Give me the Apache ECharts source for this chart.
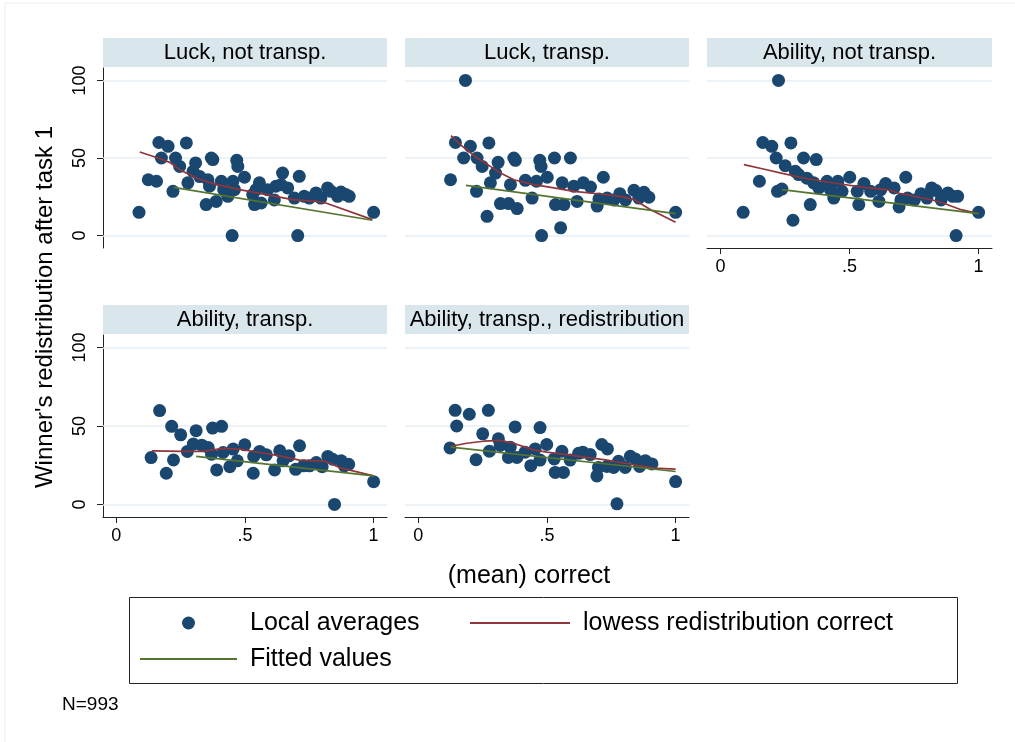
<!DOCTYPE html>
<html>
<head>
<meta charset="utf-8">
<script src="https://cdn.jsdelivr.net/npm/echarts@6/dist/echarts.min.js"></script>
<style>html,body{margin:0;padding:0;background:#fff;}#c{width:1015px;height:742px;}</style>
</head>
<body>
<div id="c"></div>
<script>
// ---------- data ----------
const panelTitles = ['Luck, not transp.', 'Luck, transp.', 'Ability, not transp.', 'Ability, transp.', 'Ability, transp., redistribution'];
const seriesNames = ['Local averages', 'lowess redistribution correct', 'Fitted values'];
const xTicks = [0, 0.5, 1];
const xTickLabels = ['0', '.5', '1'];
const yTicks = [0, 50, 100];
const yTickLabels = ['0', '50', '100'];

const luckNotTranspPoints = [[0.088,15],[0.124,36],[0.156,35],[0.165,60],[0.201,57.5],[0.175,50],[0.23,50],[0.22,28.5],[0.272,59.7],[0.246,44.6],[0.308,46.8],[0.278,34],[0.298,41.4],[0.324,38],[0.356,36],[0.369,50],[0.375,49],[0.349,20],[0.388,22],[0.362,31.8],[0.408,35],[0.417,29.6],[0.433,25.3],[0.453,35],[0.45,0],[0.468,48.5],[0.472,44.6],[0.459,29.6],[0.498,37.6],[0.53,26.4],[0.537,20],[0.556,34],[0.563,21],[0.543,29.6],[0.588,29.6],[0.614,23],[0.62,31.8],[0.646,40.3],[0.64,32.8],[0.666,30.7],[0.692,24.2],[0.711,38.2],[0.705,0],[0.73,25.3],[0.75,24.2],[0.776,27.5],[0.795,24.2],[0.821,30.7],[0.834,28.5],[0.86,25.3],[0.873,28.1],[0.892,26.4],[0.905,25.3],[1.0,15]];
const luckNotTranspLowess = [[0.091,53.9],[0.162,50],[0.207,47.2],[0.246,42.5],[0.311,37.1],[0.375,33.5],[0.479,29.6],[0.582,26.4],[0.685,23.2],[0.776,22.1],[0.814,21],[0.995,10.3]];
const luckNotTranspFit = [[0.223,31.1],[0.995,9.9]];

const luckTranspPoints = [[0.183,100],[0.125,36],[0.144,60],[0.202,57.5],[0.176,50],[0.228,50],[0.226,28.5],[0.274,59.7],[0.248,44.6],[0.267,12.4],[0.31,47.2],[0.28,34],[0.3,40.3],[0.319,20.6],[0.351,20.6],[0.384,17.4],[0.371,50],[0.377,48.5],[0.358,32.8],[0.416,35.6],[0.442,24.2],[0.459,35],[0.472,48.5],[0.477,44.6],[0.479,0],[0.501,37.6],[0.529,50],[0.533,20],[0.553,5],[0.566,20],[0.559,34],[0.591,50],[0.604,31.8],[0.617,22],[0.641,34],[0.669,31.3],[0.695,19],[0.702,23.6],[0.719,37.6],[0.734,24.2],[0.76,23],[0.783,27],[0.805,23],[0.838,29.2],[0.857,24.2],[0.877,27.9],[0.896,24.7],[1.0,15]];
const luckTranspLowess = [[0.127,64.4],[0.163,58.6],[0.228,50],[0.28,44.6],[0.319,40.3],[0.371,36],[0.449,32.8],[0.527,30.7],[0.604,28.5],[0.708,26.8],[0.786,25.3],[0.838,23.2],[0.903,16.7],[1.0,8.6]];
const luckTranspFit = [[0.185,32.4],[1.0,14.2]];

const abilityNotTranspPoints = [[0.225,100],[0.088,15],[0.151,35],[0.164,60],[0.199,57.5],[0.216,50],[0.221,28.5],[0.238,30],[0.273,59.7],[0.251,45],[0.281,9.9],[0.29,41.4],[0.303,39.3],[0.322,50],[0.348,20],[0.335,37],[0.371,49],[0.361,34],[0.381,30.7],[0.413,35],[0.426,29.6],[0.439,24.2],[0.455,35],[0.471,28.5],[0.501,37.6],[0.53,28.5],[0.536,20],[0.556,33.5],[0.582,28.5],[0.614,22],[0.621,29.6],[0.64,33.5],[0.673,30.7],[0.692,18.5],[0.699,23],[0.718,37.6],[0.725,24.2],[0.751,23],[0.777,27],[0.8,24.2],[0.818,30.7],[0.835,29],[0.855,23],[0.881,27.5],[0.9,25.3],[0.919,25.3],[0.913,0],[1.0,15]];
const abilityNotTranspLowess = [[0.091,45.7],[0.166,42.9],[0.244,39.9],[0.322,37.1],[0.439,33.9],[0.569,30.7],[0.647,29.6],[0.699,27],[0.803,23.6],[0.855,21.5],[0.932,16.7],[1.0,14.2]];
const abilityNotTranspFit = [[0.238,29.6],[1.0,14.2]];

const abilityTranspPoints = [[0.135,29.9],[0.168,59.8],[0.194,19.9],[0.215,49.8],[0.222,28.4],[0.25,44.4],[0.276,33.8],[0.31,47],[0.299,38.5],[0.332,37.8],[0.357,36.3],[0.374,48.7],[0.409,49.8],[0.39,22],[0.37,32],[0.415,33.1],[0.441,24.1],[0.454,35.3],[0.47,27.8],[0.499,38],[0.532,19.9],[0.534,30.6],[0.557,33.8],[0.583,31.6],[0.615,22],[0.635,34.2],[0.648,27.8],[0.671,31],[0.697,22.4],[0.712,37.4],[0.728,24.6],[0.751,24.6],[0.777,26.7],[0.8,24.1],[0.822,30.6],[0.841,28.8],[0.848,0],[0.874,27.8],[0.886,24.6],[0.903,25.6],[1.0,14.5]];
const abilityTranspLowess = [[0.138,34.2],[0.261,33.8],[0.338,33.8],[0.415,35.7],[0.48,35.3],[0.557,33.1],[0.635,31],[0.712,28.2],[0.815,27.4],[0.867,23.5],[1.0,18.2]];
const abilityTranspFit = [[0.31,30.6],[1.0,18.2]];

const abilityRedistPoints = [[0.123,36],[0.143,60],[0.149,50],[0.198,57.5],[0.224,28.5],[0.25,45],[0.272,60],[0.276,33.9],[0.311,41.8],[0.318,37.6],[0.35,30],[0.357,36.5],[0.376,49.4],[0.383,30],[0.415,33.3],[0.437,24.7],[0.454,35.4],[0.473,49],[0.473,28.3],[0.499,38.2],[0.532,20.4],[0.528,29],[0.558,33.9],[0.564,20.4],[0.59,28.3],[0.623,32.6],[0.639,33.3],[0.668,31.8],[0.694,18.2],[0.7,23.6],[0.713,38.2],[0.735,35.4],[0.733,24.2],[0.759,23.6],[0.772,0.4],[0.778,27.5],[0.804,23.6],[0.824,30.7],[0.843,29],[0.86,24.2],[0.882,27.9],[0.908,25.8],[1.0,14.6]];
const abilityRedistLowess = [[0.126,37.1],[0.188,39],[0.253,40.3],[0.318,40.8],[0.37,39],[0.447,34.8],[0.499,33.3],[0.577,31.8],[0.655,30],[0.733,28.3],[0.837,25.3],[0.914,23.2],[1.0,22.5]];
const abilityRedistFit = [[0.126,36.5],[1.0,21]];

const panelData = [
  [luckNotTranspPoints, luckNotTranspLowess, luckNotTranspFit],
  [luckTranspPoints, luckTranspLowess, luckTranspFit],
  [abilityNotTranspPoints, abilityNotTranspLowess, abilityNotTranspFit],
  [abilityTranspPoints, abilityTranspLowess, abilityTranspFit],
  [abilityRedistPoints, abilityRedistLowess, abilityRedistFit]
];

// ---------- layout ----------
const FONT = 'Liberation Sans, Arial, Helvetica, sans-serif';
const NAVY = '#1a476f', MAROON = '#90353b', FOREST = '#55752f';
const STRIP = '#d9e6eb', GRIDC = '#e6eef2', AXC = '#222';
const panels = [
  {left: 103, top: 68, width: 284, height: 180, strip: 38, showY: true,  showX: false},
  {left: 405, top: 68, width: 284, height: 180, strip: 38, showY: false, showX: false},
  {left: 707, top: 68, width: 285, height: 180, strip: 38, showY: false, showX: true},
  {left: 103, top: 335, width: 284, height: 182, strip: 305, showY: true,  showX: true},
  {left: 405, top: 335, width: 284, height: 182, strip: 305, showY: false, showX: true}
];
const XMIN = -0.052, XMAX = 1.052, YMIN = -8, YMAX = 108;

const grids = [], xAxes = [], yAxes = [], series = [], graphics = [];
panels.forEach((p, i) => {
  grids.push({left: p.left, top: p.top, width: p.width, height: p.height, containLabel: false});
  xAxes.push({
    type: 'value', gridIndex: i, min: XMIN, max: XMAX,
    show: p.showX,
    splitLine: {show: false},
    axisLine: {show: p.showX, onZero: false, lineStyle: {color: AXC, width: 1}},
    axisTick: {show: p.showX, length: 6, customValues: xTicks, lineStyle: {color: AXC}},
    axisLabel: {show: p.showX, customValues: xTicks, margin: 10, fontFamily: FONT, fontSize: 18, color: '#000',
      formatter: v => xTickLabels[xTicks.indexOf(v)]}
  });
  yAxes.push({
    type: 'value', gridIndex: i, min: YMIN, max: YMAX,
    show: p.showY,
    splitLine: {show: false},
    axisLine: {show: p.showY, onZero: false, lineStyle: {color: AXC, width: 1}},
    axisTick: {show: p.showY, length: 6, customValues: yTicks, lineStyle: {color: AXC}},
    axisLabel: {show: p.showY, customValues: yTicks, rotate: 90, margin: 14, fontFamily: FONT, fontSize: 18, color: '#000',
      formatter: v => yTickLabels[yTicks.indexOf(v)]}
  });
  const [pts, low, fit] = panelData[i];
  series.push({
    name: seriesNames[0], type: 'scatter', xAxisIndex: i, yAxisIndex: i, data: pts,
    symbol: 'circle', symbolSize: 13, itemStyle: {color: NAVY, opacity: 1}, z: 3, silent: true,
    markLine: {silent: true, z: 1, symbol: ['none', 'none'], label: {show: false},
      lineStyle: {color: GRIDC, width: 1.5, type: 'solid'}, animation: false,
      data: yTicks.map(v => ({yAxis: v}))}
  });
  series.push({
    name: seriesNames[1], type: 'line', xAxisIndex: i, yAxisIndex: i, data: low,
    showSymbol: false, symbol: 'none', lineStyle: {color: MAROON, width: 1.7}, itemStyle: {color: MAROON}, z: 4, silent: true
  });
  series.push({
    name: seriesNames[2], type: 'line', xAxisIndex: i, yAxisIndex: i, data: fit,
    showSymbol: false, symbol: 'none', lineStyle: {color: FOREST, width: 1.7}, itemStyle: {color: FOREST}, z: 4, silent: true
  });
  graphics.push({type: 'rect', shape: {x: p.left, y: p.strip, width: p.width, height: 29}, style: {fill: STRIP}, silent: true});
  graphics.push({type: 'text', x: p.left + p.width / 2, y: p.strip + 15,
    style: {text: panelTitles[i], fill: '#000', font: '22px ' + FONT, textAlign: 'center', textVerticalAlign: 'middle'}, silent: true});
});

// outer frame, axis titles, legend box, note
graphics.push({type: 'rect', shape: {x: 5, y: 3, width: 1100, height: 800}, style: {fill: 'none', stroke: '#e6eef0', lineWidth: 1}, silent: true, z: -1});
graphics.push({type: 'text', x: 45, y: 307, rotation: Math.PI / 2,
  style: {text: "Winner's redistribution after task 1", fill: '#000', font: '24px ' + FONT, textAlign: 'center', textVerticalAlign: 'middle'}, silent: true});
graphics.push({type: 'text', x: 529, y: 576,
  style: {text: '(mean) correct', fill: '#000', font: '25px ' + FONT, textAlign: 'center', textVerticalAlign: 'middle'}, silent: true});
graphics.push({type: 'rect', shape: {x: 129.5, y: 597.5, width: 828, height: 86}, style: {fill: '#fff', stroke: '#222', lineWidth: 1}, silent: true, z: -1});
graphics.push({type: 'text', x: 62, y: 705,
  style: {text: 'N=993', fill: '#000', font: '19px ' + FONT, textAlign: 'left', textVerticalAlign: 'middle'}, silent: true});

const legendText = {fontFamily: FONT, fontSize: 25, color: '#000', lineHeight: 28};
const legends = [
  {orient: 'horizontal', padding: 0, selectedMode: false, left: 182, top: 609, itemWidth: 13, itemHeight: 14,
    textStyle: Object.assign({padding: [0, 0, 0, 50]}, legendText),
    data: [{name: seriesNames[0], icon: 'circle'}]},
  {orient: 'horizontal', padding: 0, selectedMode: false, left: 470, top: 609, itemWidth: 100, itemHeight: 2,
    textStyle: Object.assign({padding: [0, 0, 0, 8]}, legendText),
    data: [{name: seriesNames[1], icon: 'rect'}]},
  {orient: 'horizontal', padding: 0, selectedMode: false, left: 140, top: 645, itemWidth: 97, itemHeight: 2,
    textStyle: Object.assign({padding: [0, 0, 0, 8]}, legendText),
    data: [{name: seriesNames[2], icon: 'rect'}]}
];

const chart = echarts.init(document.getElementById('c'), null, {renderer: 'canvas'});
chart.setOption({
  animation: false,
  backgroundColor: '#fff',
  grid: grids, xAxis: xAxes, yAxis: yAxes, series: series,
  legend: legends,
  graphic: {elements: graphics}
});
</script>
</body>
</html>
